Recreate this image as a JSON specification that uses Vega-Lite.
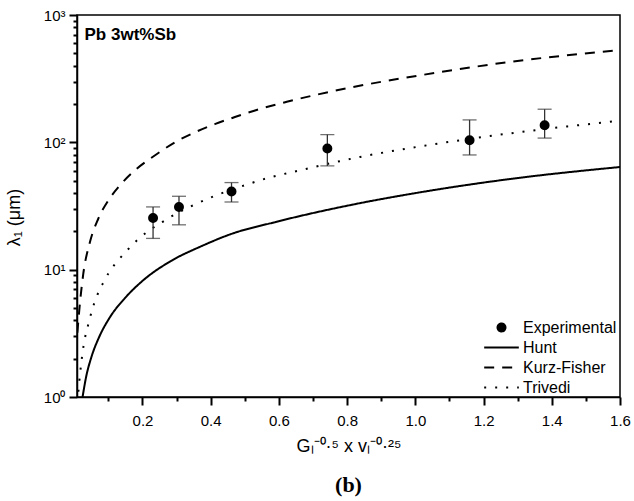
{
  "$schema": "https://vega.github.io/schema/vega-lite/v6.json",
  "width": 543,
  "height": 382,
  "autosize": {"type": "none"},
  "padding": {"left": 77, "top": 15, "right": 14, "bottom": 104},
  "background": "white",
  "title": {
    "text": "(b)",
    "orient": "bottom",
    "anchor": "middle",
    "font": "Liberation Serif",
    "fontSize": 22,
    "fontWeight": "bold",
    "color": "black",
    "offset": 20
  },
  "datasets": {
    "models": [
      {"x": 0.0243, "y": 1.0, "series": "Hunt"},
      {"x": 0.035, "y": 1.45, "series": "Hunt"},
      {"x": 0.05, "y": 2.05, "series": "Hunt"},
      {"x": 0.073, "y": 2.96, "series": "Hunt"},
      {"x": 0.105, "y": 4.25, "series": "Hunt"},
      {"x": 0.149, "y": 6.0, "series": "Hunt"},
      {"x": 0.202, "y": 8.25, "series": "Hunt"},
      {"x": 0.286, "y": 11.8, "series": "Hunt"},
      {"x": 0.373, "y": 15.3, "series": "Hunt"},
      {"x": 0.461, "y": 19.1, "series": "Hunt"},
      {"x": 0.588, "y": 23.6, "series": "Hunt"},
      {"x": 0.818, "y": 32.5, "series": "Hunt"},
      {"x": 1.014, "y": 40.5, "series": "Hunt"},
      {"x": 1.277, "y": 51.5, "series": "Hunt"},
      {"x": 1.6, "y": 64.0, "series": "Hunt"},
      {"x": 0.009, "y": 3.2, "series": "Kurz-Fisher"},
      {"x": 0.017, "y": 5.6, "series": "Kurz-Fisher"},
      {"x": 0.026, "y": 9.1, "series": "Kurz-Fisher"},
      {"x": 0.046, "y": 16.5, "series": "Kurz-Fisher"},
      {"x": 0.07, "y": 25.0, "series": "Kurz-Fisher"},
      {"x": 0.1, "y": 35.0, "series": "Kurz-Fisher"},
      {"x": 0.134, "y": 46.0, "series": "Kurz-Fisher"},
      {"x": 0.178, "y": 60.4, "series": "Kurz-Fisher"},
      {"x": 0.237, "y": 79.2, "series": "Kurz-Fisher"},
      {"x": 0.295, "y": 100.0, "series": "Kurz-Fisher"},
      {"x": 0.354, "y": 120.0, "series": "Kurz-Fisher"},
      {"x": 0.412, "y": 139.0, "series": "Kurz-Fisher"},
      {"x": 0.471, "y": 158.0, "series": "Kurz-Fisher"},
      {"x": 0.53, "y": 178.0, "series": "Kurz-Fisher"},
      {"x": 0.623, "y": 208.0, "series": "Kurz-Fisher"},
      {"x": 0.818, "y": 272.0, "series": "Kurz-Fisher"},
      {"x": 1.014, "y": 336.0, "series": "Kurz-Fisher"},
      {"x": 1.277, "y": 428.0, "series": "Kurz-Fisher"},
      {"x": 1.6, "y": 530.0, "series": "Kurz-Fisher"},
      {"x": 0.012, "y": 1.1, "series": "Trivedi"},
      {"x": 0.0173, "y": 1.55, "series": "Trivedi"},
      {"x": 0.027, "y": 2.5, "series": "Trivedi"},
      {"x": 0.042, "y": 3.8, "series": "Trivedi"},
      {"x": 0.058, "y": 5.4, "series": "Trivedi"},
      {"x": 0.086, "y": 8.0, "series": "Trivedi"},
      {"x": 0.105, "y": 9.8, "series": "Trivedi"},
      {"x": 0.127, "y": 11.7, "series": "Trivedi"},
      {"x": 0.154, "y": 14.1, "series": "Trivedi"},
      {"x": 0.185, "y": 17.1, "series": "Trivedi"},
      {"x": 0.217, "y": 20.1, "series": "Trivedi"},
      {"x": 0.251, "y": 23.0, "series": "Trivedi"},
      {"x": 0.286, "y": 26.3, "series": "Trivedi"},
      {"x": 0.347, "y": 31.9, "series": "Trivedi"},
      {"x": 0.415, "y": 38.2, "series": "Trivedi"},
      {"x": 0.51, "y": 47.0, "series": "Trivedi"},
      {"x": 0.579, "y": 53.5, "series": "Trivedi"},
      {"x": 0.642, "y": 58.6, "series": "Trivedi"},
      {"x": 0.838, "y": 76.8, "series": "Trivedi"},
      {"x": 1.004, "y": 92.0, "series": "Trivedi"},
      {"x": 1.229, "y": 113.0, "series": "Trivedi"},
      {"x": 1.6, "y": 148.0, "series": "Trivedi"}
    ],
    "measured": [
      {"x": 0.231, "y": 25.5, "lo": 17.6, "hi": 31.1, "series": "Experimental"},
      {"x": 0.307, "y": 31.1, "lo": 22.5, "hi": 37.7, "series": "Experimental"},
      {"x": 0.461, "y": 41.1, "lo": 34.0, "hi": 48.3, "series": "Experimental"},
      {"x": 0.742, "y": 89.4, "lo": 65.3, "hi": 115.0, "series": "Experimental"},
      {"x": 1.159, "y": 104.0, "lo": 79.6, "hi": 150.0, "series": "Experimental"},
      {"x": 1.379, "y": 136.0, "lo": 108.0, "hi": 182.0, "series": "Experimental"}
    ]
  },
  "resolve": {"axis": {"x": "independent", "y": "independent"}},
  "layer": [
    {
      "data": {"name": "models"},
      "mark": {"type": "line", "color": "black", "strokeWidth": 2, "clip": true, "interpolate": "monotone"},
      "encoding": {
        "x": {
          "field": "x", "type": "quantitative",
          "scale": {"domain": [0.008, 1.6], "nice": false, "zero": false},
          "axis": {
            "orient": "bottom",
            "values": [0.1, 0.2, 0.3, 0.4, 0.5, 0.6, 0.7, 0.8, 0.9, 1.0, 1.1, 1.2, 1.3, 1.4, 1.5, 1.6],
            "labelExpr": "round(datum.value * 10) % 2 == 1 ? '' : format(datum.value, '.1f')",
            "grid": false,
            "ticks": true,
            "tickSize": 8,
            "tickOpacity": 1,
            "tickDash": {"condition": {"test": "round(datum.value * 10) % 2 == 1", "value": [4, 20]}, "value": [1, 0]},
            "tickWidth": 2, "tickColor": "black",
            "domainColor": "black", "domainWidth": 1.5,
            "labelFont": "Liberation Sans", "labelFontSize": 15, "labelColor": "black", "labelPadding": 8,
            "labelFlush": false, "labelOverlap": false,
            "title": "Gₗ⁻⁰·⁵ x vₗ⁻⁰·²⁵",
            "titleFont": "Liberation Sans", "titleFontSize": 18, "titleFontWeight": "normal",
            "titleColor": "black", "titlePadding": 9
          }
        },
        "y": {
          "field": "y", "type": "quantitative",
          "scale": {"type": "log", "domain": [1, 1000], "nice": false},
          "axis": {
            "orient": "left",
            "values": [1, 2, 3, 4, 5, 6, 7, 8, 9, 10, 20, 30, 40, 50, 60, 70, 80, 90, 100, 200, 300, 400, 500, 600, 700, 800, 900, 1000],
            "labelExpr": "datum.value == 1 ? '10⁰' : datum.value == 10 ? '10¹' : datum.value == 100 ? '10²' : datum.value == 1000 ? '10³' : ''",
            "grid": false,
            "ticks": true,
            "tickSize": 8,
            "tickOpacity": 1,
            "tickDash": {"condition": {"test": "indexof([1, 10, 100, 1000], datum.value) < 0", "value": [4, 20]}, "value": [1, 0]},
            "tickWidth": 2, "tickColor": "black",
            "domainColor": "black", "domainWidth": 1.5,
            "labelFont": "Liberation Sans", "labelFontSize": 15, "labelColor": "black", "labelPadding": 4,
            "labelFlush": false, "labelOverlap": false,
            "title": "λ₁ (μm)",
            "titleFont": "Liberation Sans", "titleFontSize": 18, "titleFontWeight": "normal",
            "titleColor": "black", "titleX": -54, "titleY": 202
          }
        },
        "strokeDash": {
          "field": "series", "type": "nominal",
          "scale": {
            "domain": ["Experimental", "Hunt", "Kurz-Fisher", "Trivedi"],
            "range": [[1, 0], [1, 0], [10, 8], [2, 9]]
          },
          "legend": {
            "title": null,
            "orient": "none",
            "legendX": 406,
            "legendY": 305,
            "padding": 0,
            "clipHeight": 15,
            "rowPadding": 3,
            "labelOffset": 3,
            "labelFont": "Liberation Sans",
            "labelFontSize": 16,
            "labelColor": "black",
            "symbolSize": 1200,
            "symbolStrokeWidth": 2,
            "symbolStrokeColor": "black",
            "symbolFillColor": "black",
            "encode": {
              "symbols": {
                "update": {
                  "size": {"value": 1200},
                  "fill": {"value": "black"},
                  "stroke": {"value": "black"},
                  "strokeWidth": {"value": 2}
                }
              }
            }
          }
        }
      }
    },
    {
      "data": {"name": "measured"},
      "mark": {"type": "rule", "color": "#333", "strokeWidth": 1.3},
      "encoding": {
        "x": {"field": "x", "type": "quantitative", "axis": null},
        "y": {"field": "lo", "type": "quantitative", "axis": null},
        "y2": {"field": "hi"}
      }
    },
    {
      "data": {"name": "measured"},
      "mark": {"type": "tick", "orient": "horizontal", "color": "#333", "size": 14, "thickness": 1.3},
      "encoding": {
        "x": {"field": "x", "type": "quantitative", "axis": null},
        "y": {"field": "lo", "type": "quantitative", "axis": null}
      }
    },
    {
      "data": {"name": "measured"},
      "mark": {"type": "tick", "orient": "horizontal", "color": "#333", "size": 14, "thickness": 1.3},
      "encoding": {
        "x": {"field": "x", "type": "quantitative", "axis": null},
        "y": {"field": "hi", "type": "quantitative", "axis": null}
      }
    },
    {
      "data": {"name": "measured"},
      "mark": {"type": "point", "filled": true, "color": "black", "stroke": "black", "strokeWidth": 2, "size": 1200, "opacity": 1},
      "encoding": {
        "x": {"field": "x", "type": "quantitative", "axis": null},
        "y": {"field": "y", "type": "quantitative", "axis": null},
        "shape": {
          "field": "series", "type": "nominal",
          "scale": {
            "domain": ["Experimental", "Hunt", "Kurz-Fisher", "Trivedi"],
            "range": ["M-0.23,0A0.23,0.23,0,1,0,0.23,0A0.23,0.23,0,1,0,-0.23,0Z", "stroke", "stroke", "stroke"]
          },
          "legend": {
            "title": null,
            "orient": "none",
            "legendX": 406,
            "legendY": 305,
            "padding": 0,
            "clipHeight": 15,
            "rowPadding": 3,
            "labelOffset": 3,
            "labelFont": "Liberation Sans",
            "labelFontSize": 16,
            "labelColor": "black",
            "symbolSize": 1200,
            "symbolStrokeWidth": 2,
            "symbolStrokeColor": "black",
            "symbolFillColor": "black",
            "encode": {
              "symbols": {
                "update": {
                  "size": {"value": 1200},
                  "fill": {"value": "black"},
                  "stroke": {"value": "black"},
                  "strokeWidth": {"value": 2}
                }
              }
            }
          }
        }
      }
    },
    {
      "data": {"values": [{}]},
      "mark": {"type": "text", "text": "Pb 3wt%Sb", "align": "left", "baseline": "middle",
               "font": "Liberation Sans", "fontSize": 17, "fontWeight": "bold", "color": "black"},
      "encoding": {
        "x": {"datum": 0.03, "type": "quantitative", "axis": null},
        "y": {"datum": 700, "type": "quantitative", "axis": null}
      }
    }
  ],
  "config": {
    "font": "Liberation Sans",
    "view": {"stroke": "black", "strokeWidth": 1.5}
  }
}
